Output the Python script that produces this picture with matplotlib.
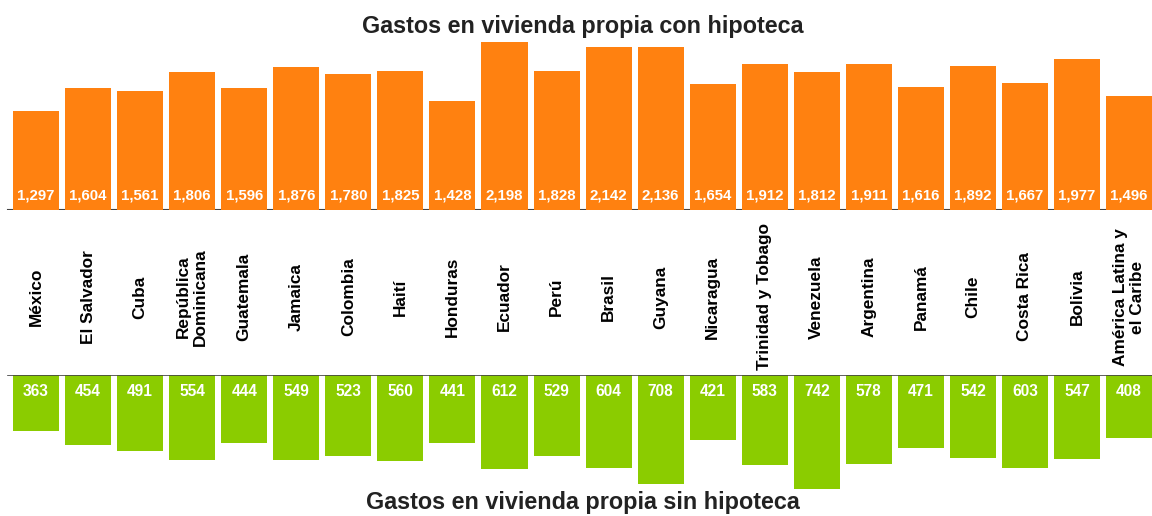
import matplotlib
matplotlib.use("Agg")
import matplotlib.pyplot as plt
import matplotlib.transforms as mtransforms

plt.rcParams['font.family'] = ['Liberation Sans', 'DejaVu Sans']

paises = ["México", "El Salvador", "Cuba", "República\nDominicana", "Guatemala",
          "Jamaica", "Colombia", "Haití", "Honduras", "Ecuador", "Perú", "Brasil",
          "Guyana", "Nicaragua", "Trinidad y Tobago", "Venezuela", "Argentina",
          "Panamá", "Chile", "Costa Rica", "Bolivia", "América Latina y\nel Caribe"]
con_hipoteca = [1297, 1604, 1561, 1806, 1596, 1876, 1780, 1825, 1428, 2198, 1828,
                2142, 2136, 1654, 1912, 1812, 1911, 1616, 1892, 1667, 1977, 1496]
sin_hipoteca = [363, 454, 491, 554, 444, 549, 523, 560, 441, 612, 529,
                604, 708, 421, 583, 742, 578, 471, 542, 603, 547, 408]

W, H = 1152, 516
naranja = "#ff8110"
verde = "#8bcc00"

fig = plt.figure(figsize=(W / 100, H / 100), dpi=100)
x = list(range(len(paises)))

# top panel: baseline at y=210px, ~0.0763 px per unit
ax1 = fig.add_axes([0, (H - 210) / H, 1, 180 / H])
ax1.bar(x, con_hipoteca, width=0.885, color=naranja, zorder=2)
ax1.axhline(0, xmin=8 / W, color="#444444", lw=1.5, zorder=1)
ax1.set_xlim(-0.692, 21.44)
ax1.set_ylim(0, 180 / 0.0763)
ax1.axis("off")
for i, v in enumerate(con_hipoteca):
    ax1.annotate(f"{v:,}", (i, 0), xytext=(0, 10.4), textcoords="offset points",
                 ha="center", va="center", color="white", fontsize=10.8,
                 fontweight="bold", zorder=3)

# bottom panel: baseline at y=375px, ~0.154 px per unit, inverted
ax2 = fig.add_axes([0, 0, 1, (H - 375) / H])
ax2.bar(x, sin_hipoteca, width=0.885, color=verde, zorder=2)
ax2.axhline(0, xmin=8 / W, color="#444444", lw=1.2, zorder=3)
ax2.set_xlim(-0.692, 21.44)
ax2.set_ylim(141 / 0.154, 0)
ax2.axis("off")
for i, v in enumerate(sin_hipoteca):
    ax2.annotate(str(v), (i, 0), xytext=(0, -12.0), textcoords="offset points",
                 ha="center", va="center", color="white", fontsize=11.2,
                 fontweight="bold", zorder=4)

# country names between the panels
tr = mtransforms.blended_transform_factory(ax1.transData, fig.transFigure)
for i, p in enumerate(paises):
    fig.text(i, (H - 297) / H, p, transform=tr, rotation=90, ha="center",
             va="center", multialignment="center", fontsize=12.4,
             fontweight="bold", color="black", linespacing=1.15)

fig.text(583 / W, (H - 33.5) / H, "Gastos en vivienda propia con hipoteca",
         ha="center", va="baseline", fontsize=16.8, fontweight="bold", color="#222222")
fig.text(583 / W, (H - 509.5) / H, "Gastos en vivienda propia sin hipoteca",
         ha="center", va="baseline", fontsize=16.8, fontweight="bold", color="#222222")

fig.savefig("out.png", dpi=100)
